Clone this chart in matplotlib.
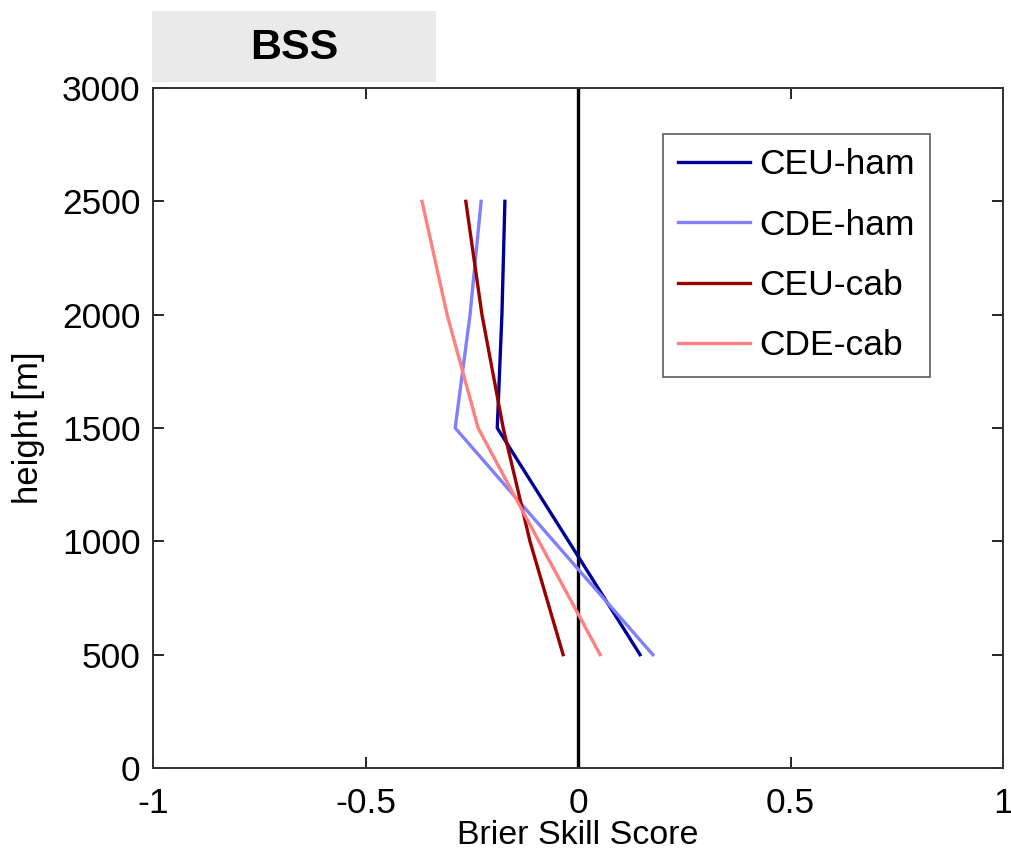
import matplotlib
matplotlib.use("Agg")
import matplotlib.pyplot as plt
from matplotlib.patches import Rectangle

plt.rcParams['font.family'] = ['Liberation Sans', 'DejaVu Sans']

# heights of the profile levels [m]
heights = [500, 1000, 1500, 2000, 2500]

# Brier skill score per level
ceu_ham = [0.146, -0.022, -0.190, -0.179, -0.172]
cde_ham = [0.176, -0.057, -0.289, -0.254, -0.228]
ceu_cab = [-0.035, -0.113, -0.176, -0.226, -0.264]
cde_cab = [0.052, -0.092, -0.235, -0.308, -0.367]

series = [
    ("CEU-ham", ceu_ham, "#000099"),
    ("CDE-ham", cde_ham, "#8080ff"),
    ("CEU-cab", ceu_cab, "#990000"),
    ("CDE-cab", cde_cab, "#ff8080"),
]

x_ticks = [-1, -0.5, 0, 0.5, 1]
x_labels = ["-1", "-0.5", "0", "0.5", "1"]
y_ticks = [0, 500, 1000, 1500, 2000, 2500, 3000]

fig = plt.figure(figsize=(10.11, 8.52), dpi=100)
ax = fig.add_axes([153 / 1011, 84 / 852, 850 / 1011, 680 / 852])

ax.axvline(0, color="black", linewidth=2.4, zorder=1)
for name, vals, col in series:
    ax.plot(vals, heights, color=col, linewidth=2.4, label=name, zorder=2)

ax.set_xlim(-1, 1)
ax.set_ylim(0, 3000)
ax.set_xticks(x_ticks)
ax.set_xticklabels(x_labels)
ax.set_yticks(y_ticks)
ax.tick_params(direction="in", top=True, right=True, length=8, width=1.2,
               labelsize=25.5)
ax.tick_params(axis="x", pad=14)
ax.tick_params(axis="y", pad=9)
for sp in ax.spines.values():
    sp.set_linewidth(1.4)
    sp.set_color("#333333")

ax.set_xlabel("Brier Skill Score", fontsize=24.5, labelpad=0)
ax.set_ylabel("height [m]", fontsize=25, labelpad=12)

leg = ax.legend(loc="upper left", bbox_to_anchor=(0.6, 0.933), fontsize=25.5,
                frameon=True, fancybox=False, handlelength=2.05,
                handletextpad=0.26, labelspacing=0.77, borderpad=0.42,
                borderaxespad=0)
leg.get_frame().set_edgecolor("#333333")
leg.get_frame().set_linewidth(1.2)

# grey title box
fig.patches.append(Rectangle((152 / 1011, 1 - 82 / 852), 284 / 1011, 71 / 852,
                             transform=fig.transFigure, facecolor="#eaeaea",
                             edgecolor="none"))
fig.text(294 / 1011, 1 - 48 / 852, "BSS", fontsize=31, fontweight="bold",
         ha="center", va="center")

fig.savefig("out.png", dpi=100)
